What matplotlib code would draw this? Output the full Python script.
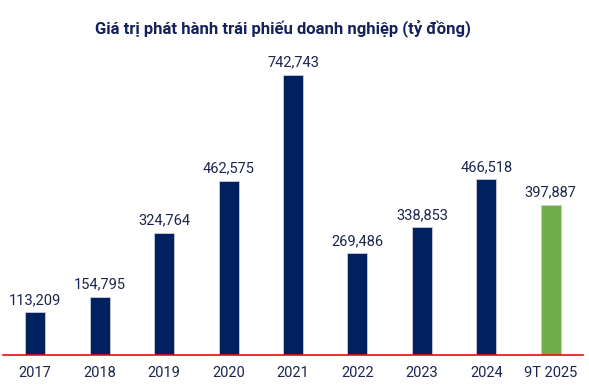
import matplotlib
matplotlib.use("Agg")
import matplotlib.pyplot as plt

categories = ["2017", "2018", "2019", "2020", "2021", "2022", "2023", "2024", "9T 2025"]
values = [113209, 154795, 324764, 462575, 742743, 269486, 338853, 466518, 397887]
colors = ["#002060"] * 8 + ["#70AD47"]

plt.rcParams['font.family'] = ['Roboto', 'DejaVu Sans']

fig = plt.figure(figsize=(5.89, 3.91), dpi=100)
ax = fig.add_axes([3/589, 36/391, 580/589, 300/391])
x = range(len(categories))
bars = ax.bar(x, values, width=0.31, color=colors, edgecolor="#c8ccd6", linewidth=0.6, zorder=2)
ax.set_xlim(-0.5, len(categories) - 0.5)
ax.set_ylim(0, 795800)
for xi, v in zip(x, values):
    ax.text(xi, v + 14000, f"{v:,}", ha="center", va="bottom", fontsize=10.5, color="#1b2550")
ax.set_xticks(list(x))
ax.set_xticklabels(categories, fontsize=10.5, color="#1b2550")
ax.tick_params(axis="x", length=0, pad=8)
ax.set_yticks([])
for s in ["top", "right", "left"]:
    ax.spines[s].set_visible(False)
ax.spines["bottom"].set_color("#e01010")
ax.spines["bottom"].set_linewidth(1.2)
fig.text(283/589, 1 - 28/391, "Giá trị phát hành trái phiếu doanh nghiệp (tỷ đồng)",
         ha="center", va="center", fontsize=12, fontweight="bold", color="#14215a")
fig.savefig("out.png", dpi=100)
